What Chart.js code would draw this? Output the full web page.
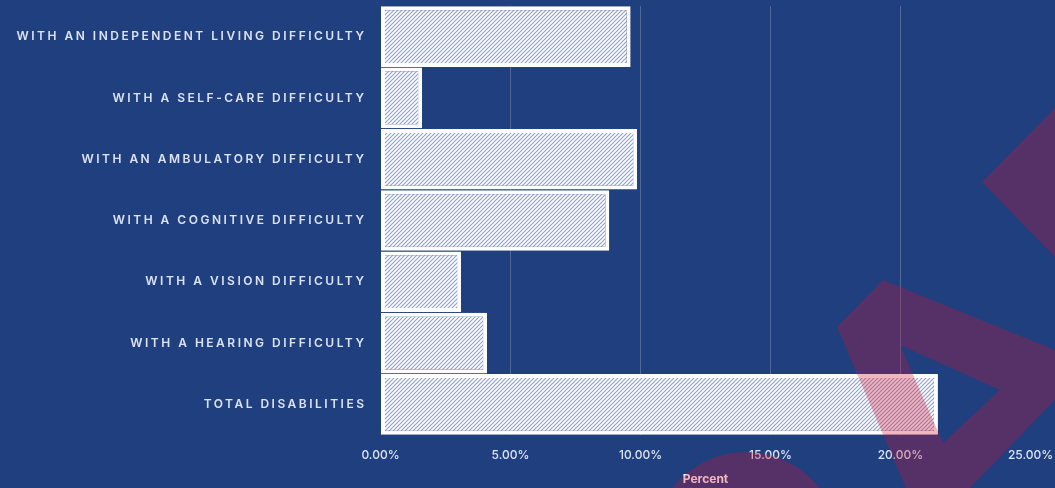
<!DOCTYPE html>
<html>
<head>
<meta charset="utf-8">
<script src="https://cdn.jsdelivr.net/npm/chart.js@4/dist/chart.umd.min.js"></script>
<style>
  html, body { margin: 0; padding: 0; background: #203f7e; overflow: hidden; }
  #wrap { position: relative; width: 1055px; height: 488px; }
  canvas { display: block; }
</style>
</head>
<body>
<div id="wrap"><canvas id="chart" width="1055" height="488"></canvas></div>
<script>
// ---- data ----
const categories = [
  "WITH AN INDEPENDENT LIVING DIFFICULTY",
  "WITH A SELF-CARE DIFFICULTY",
  "WITH AN AMBULATORY DIFFICULTY",
  "WITH A COGNITIVE DIFFICULTY",
  "WITH A VISION DIFFICULTY",
  "WITH A HEARING DIFFICULTY",
  "TOTAL DISABILITIES"
];
const percentValues = [9.62, 1.6, 9.87, 8.8, 3.1, 4.1, 21.44];
const axisMin = 0;
const axisMax = 25;
const axisStep = 5;
const axisTitle = "Percent";

// ---- hatch pattern ----
function makeHatch() {
  const s = 4;
  const c = document.createElement('canvas');
  c.width = s; c.height = s;
  const g = c.getContext('2d');
  g.fillStyle = '#ffffff';
  g.fillRect(0, 0, s, s);
  g.strokeStyle = '#95a2c6';
  g.lineWidth = 1.2;
  g.beginPath();
  g.moveTo(-1, s + 1); g.lineTo(s + 1, -1);
  g.moveTo(-1, 1); g.lineTo(1, -1);
  g.moveTo(s - 1, s + 1); g.lineTo(s + 1, s - 1);
  g.stroke();
  return c;
}
const ctx = document.getElementById('chart').getContext('2d');
const hatch = ctx.createPattern(makeHatch(), 'repeat');

// ---- decoration + letter spacing plugin ----
const decoPlugin = {
  id: 'deco',
  afterDatasetsDraw(chart) { chart.ctx.letterSpacing = '2.5px'; },
  afterDraw(chart) {
    const c = chart.ctx;
    c.letterSpacing = '0px';
    c.save();
    c.fillStyle = 'rgba(210,15,50,0.30)';
    // right chevron
    c.beginPath();
    c.moveTo(1055, 108); c.lineTo(982, 182); c.lineTo(1055, 257); c.closePath();
    c.fill();
    // large angular band with hole
    c.beginPath();
    c.moveTo(837, 327); c.lineTo(883, 280); c.lineTo(1055, 350); c.lineTo(1055, 400);
    c.lineTo(1045, 410); c.lineTo(970, 488); c.lineTo(906, 488); c.closePath();
    c.moveTo(900, 345); c.lineTo(1000, 390); c.lineTo(943, 443); c.closePath();
    c.fill('evenodd');
    // circle near bottom
    c.beginPath();
    c.arc(746, 545, 93, 0, Math.PI * 2);
    c.fill();
    c.restore();
  }
};

new Chart(ctx, {
  type: 'bar',
  data: {
    labels: categories,
    datasets: [{
      data: percentValues,
      backgroundColor: hatch,
      borderColor: '#ffffff',
      borderWidth: 4,
      borderSkipped: false,
      barPercentage: 1,
      categoryPercentage: 0.99
    }]
  },
  options: {
    indexAxis: 'y',
    responsive: false,
    animation: false,
    devicePixelRatio: 1,
    layout: { padding: { top: 6, right: 24.5, left: 0, bottom: 0 } },
    plugins: {
      legend: { display: false },
      tooltip: { enabled: false },
      title: { display: false }
    },
    scales: {
      x: {
        min: axisMin,
        max: axisMax,
        ticks: {
          stepSize: axisStep,
          padding: 13,
          color: '#dde5f4',
          font: { family: 'Inter', size: 12, weight: '500' },
          callback: v => Number(v).toFixed(2) + '%'
        },
        grid: {
          drawTicks: false,
          lineWidth: 1,
          color: c => (c.tick && (c.tick.value === axisMin || c.tick.value === axisMax)) ? 'rgba(0,0,0,0)' : 'rgba(255,255,255,0.22)'
        },
        border: { display: false },
        title: {
          display: true,
          text: axisTitle,
          color: '#ffffff',
          font: { family: 'Inter', size: 12, weight: 'bold' },
          padding: { top: 0, bottom: 1 }
        },
        afterFit: s => { s.height = 53; s.paddingLeft = 0; s.paddingRight = 0; }
      },
      y: {
        ticks: {
          z: 1,
          padding: 6,
          color: '#dbe3f3',
          font: { family: 'Inter', size: 12, weight: '600' }
        },
        grid: { display: false },
        border: { display: false },
        afterFit: s => { s.width = 380.5; s.paddingTop = 0; s.paddingBottom = 0; }
      }
    }
  },
  plugins: [decoPlugin]
});
</script>
</body>
</html>
